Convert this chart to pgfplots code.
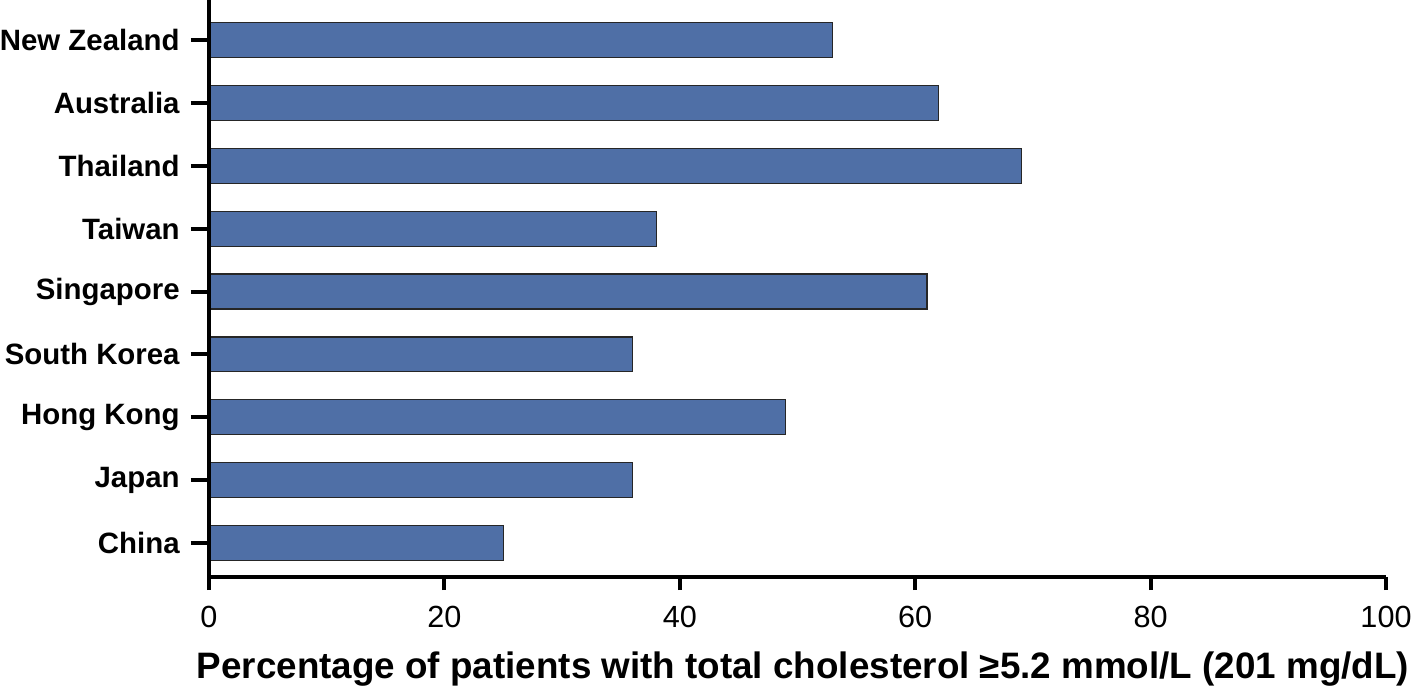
\documentclass[border=0pt]{standalone}
\usepackage{fontspec}
\setmainfont{Liberation Sans}
\usepackage{pgfplots}
\pgfplotsset{compat=1.18}
\definecolor{barblue}{RGB}{79,111,166}
\begin{document}
\begin{tikzpicture}
\useasboundingbox (-104.5pt,-60.5pt) rectangle (604.5pt,288.5pt);
\begin{axis}[
  at={(0,0)}, anchor=south west,
  scale only axis,
  width=588.5pt, height=288.5pt,
  xbar, bar width=0.556,
  xmin=0, xmax=100,
  ymin=-0.54, ymax=8.636,
  axis x line=bottom, axis y line=left,
  axis line style={-, line width=2pt, black},
  xtick={0,20,40,60,80,100},
  ytick={0,...,8},
  yticklabels={China,Japan,Hong Kong,South Korea,Singapore,Taiwan,Thailand,Australia,New Zealand},
  tick align=outside,
  major tick length=9pt,
  x tick style={line width=2pt, black, /pgfplots/major tick length=6.5pt},
  y tick style={line width=2pt, black},
  minor tick num=0,
  /pgf/number format/assume math mode=true,
  xticklabel style={font=\fontsize{15.3pt}{18pt}\selectfont, anchor=north, inner sep=0pt, yshift=-5.5pt},
  yticklabel style={font=\fontsize{14.7pt}{17pt}\selectfont\bfseries, anchor=east, inner sep=0pt, xshift=-5.5pt},
  xlabel={Percentage of patients with total cholesterol ≥5.2 mmol/L (201 mg/dL)},
  xlabel style={font=\fontsize{18.4pt}{21pt}\selectfont\bfseries, at={(rel axis cs:0.5,0)}, anchor=center, yshift=-46pt, xshift=2.75pt},
  axis on top,
  clip=false,
]
\addplot[fill=barblue, draw=black!85, line width=0.6pt] coordinates {
  (25,0) (36,1) (49,2) (36,3) (61,4) (38,5) (69,6) (62,7) (53,8)
};
\end{axis}
\end{tikzpicture}
\end{document}
